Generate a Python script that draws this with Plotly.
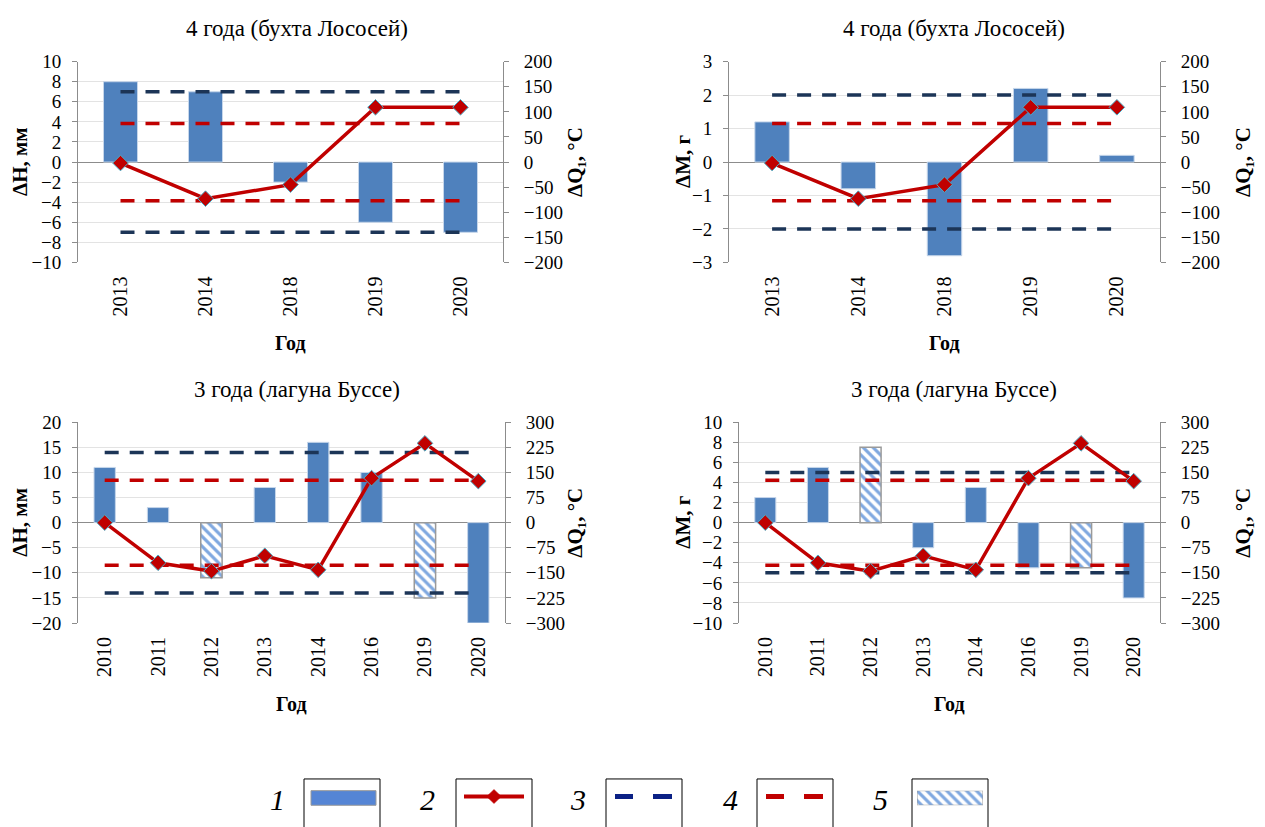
import plotly.graph_objects as go

# ---------------- data ----------------
years_top = ["2013", "2014", "2018", "2019", "2020"]
dH_top = [8, 7, -2, -6, -7]
dM_top = [1.2, -0.8, -2.8, 2.2, 0.2]
dQ_top = [-2, -73, -45, 109, 109]
dH_top_lim = 7
dM_top_lim = 2
dQ_top_lim = 77

years_bot = ["2010", "2011", "2012", "2013", "2014", "2016", "2019", "2020"]
dH_bot = [11, 3, -11, 7, 16, 10, -15, -20]
dM_bot = [2.5, 5.5, 7.5, -2.5, 3.5, -4.5, -4.5, -7.5]
dQ_bot = [0, -120, -145, -99, -141, 133, 237, 124]
hatched_bot = ["2012", "2019"]
dH_bot_lim = 14
dM_bot_lim = 5
dQ_bot_lim = 127

title_top = "4 года (бухта Лососей)"
title_bot = "3 года (лагуна Буссе)"
legend_labels = ["1", "2", "3", "4", "5"]

# ---------------- styling ----------------
W, H = 1265, 827
FONT = "Liberation Serif, Times New Roman, serif"
BAR = "#4F81BD"
RED = "#C00000"
NAVY = "#1C3557"
AXIS = "#8C8C8C"
GRID = "#E3E3E3"
DASH = "14px,11px"


def px(x):
    return x / W


def py(y):
    return 1 - y / H


def label(text, x, y, size, angle=0, weight="normal", style="normal"):
    return dict(text=text, x=px(x), y=py(y), xref="paper", yref="paper",
                xanchor="center", yanchor="middle", showarrow=False,
                textangle=angle,
                font=dict(family=FONT, size=size, color="black",
                          weight=weight, style=style))


panels = [
    dict(x0=78, x1=503, y0=53, y1=259, cats=years_top, bars=dH_top, hatched=[],
         q=dQ_top, lim=dH_top_lim, qlim=dQ_top_lim, yr=10, yd=2, qr=200, qd=50,
         title=title_top, ytitle="ΔH, мм", ytx=20, qtx=575, ttx=297),
    dict(x0=729, x1=1160, y0=53, y1=259, cats=years_top, bars=dM_top, hatched=[],
         q=dQ_top, lim=dM_top_lim, qlim=dQ_top_lim, yr=3, yd=1, qr=200, qd=50,
         title=title_top, ytitle="ΔM, г", ytx=683, qtx=1243, ttx=954),
    dict(x0=78, x1=505, y0=423, y1=629, cats=years_bot, bars=dH_bot, hatched=hatched_bot,
         q=dQ_bot, lim=dH_bot_lim, qlim=dQ_bot_lim, yr=20, yd=5, qr=300, qd=75,
         title=title_bot, ytitle="ΔH, мм", ytx=20, qtx=575, ttx=297),
    dict(x0=739, x1=1160, y0=423, y1=629, cats=years_bot, bars=dM_bot, hatched=hatched_bot,
         q=dQ_bot, lim=dM_bot_lim, qlim=dQ_bot_lim, yr=10, yd=2, qr=300, qd=75,
         title=title_bot, ytitle="ΔM, г", ytx=683, qtx=1243, ttx=954),
]

fig = go.Figure()
xtickfont = dict(family=FONT, size=20, color="black")
ytickfont = dict(family=FONT, size=19, color="black")
layout = dict(
    width=W, height=H, margin=dict(l=0, r=0, t=0, b=0),
    paper_bgcolor="white", plot_bgcolor="white",
    showlegend=False, barmode="overlay",
    font=dict(family=FONT, size=19, color="black"),
)
annotations = []
shapes = []

for i, p in enumerate(panels):
    xa = f"x{i + 1}" if i else "x"
    ya = f"y{2 * i + 1}" if i else "y"
    ya2 = f"y{2 * i + 2}"
    xkey = f"xaxis{i + 1}" if i else "xaxis"
    ykey = f"yaxis{2 * i + 1}" if i else "yaxis"
    ykey2 = f"yaxis{2 * i + 2}"
    cats = p["cats"]
    n = len(cats)

    layout[xkey] = dict(
        domain=[px(p["x0"]), px(p["x1"])], anchor=ya, type="category",
        range=[-0.5, n - 0.5], tickangle=-90, showgrid=False, showline=False,
        ticks="", ticklabelstandoff=9, tickfont=xtickfont,
    )
    layout[ykey] = dict(
        domain=[py(p["y1"]), py(p["y0"])], anchor=xa,
        range=[-p["yr"], p["yr"]], dtick=p["yd"], tick0=0,
        showline=True, linecolor=AXIS, linewidth=1,
        ticks="outside", ticklen=5, tickcolor=AXIS,
        showgrid=True, gridcolor=GRID, gridwidth=1,
        zeroline=True, zerolinecolor=AXIS, zerolinewidth=1,
        ticklabelstandoff=7, tickfont=ytickfont,
    )
    layout[ykey2] = dict(
        overlaying=ya, side="right", anchor=xa,
        range=[-p["qr"], p["qr"]], dtick=p["qd"], tick0=0,
        showline=True, linecolor=AXIS, linewidth=1,
        ticks="outside", ticklen=5, tickcolor=AXIS,
        showgrid=False, zeroline=False,
        ticklabelstandoff=11, tickfont=ytickfont,
    )

    solid = [v if c not in p["hatched"] else None for c, v in zip(cats, p["bars"])]
    hatch = [v if c in p["hatched"] else None for c, v in zip(cats, p["bars"])]

    fig.add_trace(go.Bar(
        x=cats, y=solid, width=0.4, xaxis=xa, yaxis=ya,
        marker=dict(color=BAR, line=dict(color="#C6D6EA", width=1)),
    ))
    if p["hatched"]:
        fig.add_trace(go.Bar(
            x=cats, y=hatch, width=0.4, xaxis=xa, yaxis=ya,
            marker=dict(
                color="#7FA8E0",
                line=dict(color="#9A9A9A", width=1.5),
                pattern=dict(shape="\\", fgcolor="#7FA8E0", bgcolor="white",
                             size=7, solidity=0.45, fillmode="replace"),
            ),
        ))

    # threshold lines
    for s in (1, -1):
        fig.add_trace(go.Scatter(
            x=cats, y=[s * p["lim"]] * n, mode="lines", xaxis=xa, yaxis=ya,
            line=dict(color=NAVY, width=3.5, dash=DASH),
        ))
    for s in (1, -1):
        fig.add_trace(go.Scatter(
            x=cats, y=[s * p["qlim"]] * n, mode="lines", xaxis=xa, yaxis=ya2,
            line=dict(color=RED, width=3.5, dash=DASH),
        ))

    # ΔQ1 line
    fig.add_trace(go.Scatter(
        x=cats, y=p["q"], mode="lines+markers", xaxis=xa, yaxis=ya2,
        line=dict(color=RED, width=3.5),
        marker=dict(symbol="diamond", size=12, color=RED,
                    line=dict(color="#4BACC6", width=1)),
    ))

    ymid = (p["y0"] + p["y1"]) / 2
    xmid = (p["x0"] + p["x1"]) / 2
    annotations += [
        label(p["title"], p["ttx"], p["y0"] - 34, 23),
        label(p["ytitle"], p["ytx"], ymid, 21, -90, weight="bold"),
        label("ΔQ₁, °C", p["qtx"], ymid, 21, -90, weight="bold"),
        label("Год", xmid, p["y1"] + 83, 20, weight="bold"),
    ]

# ---------------- legend keys ----------------
box_left = [304, 456, 606, 757, 912]
num_x = [277, 427, 578, 730, 880]
box_w = 76
box_top = 789
for k in range(5):
    l, r = box_left[k], box_left[k] + box_w
    shapes.append(dict(type="path", xref="paper", yref="paper",
                       path=f"M {px(l)},{py(840)} L {px(l)},{py(box_top)} "
                            f"L {px(r)},{py(box_top)} L {px(r)},{py(840)}",
                       line=dict(color="black", width=1)))
    annotations.append(label(legend_labels[k], num_x[k], 810, 30, style="italic"))

# 1: solid bar key
shapes.append(dict(type="rect", xref="paper", yref="paper",
                   x0=px(311), x1=px(376), y0=py(816), y1=py(801),
                   fillcolor="#5585D5", line=dict(color="#9A9A9A", width=1)))
# 2: line with diamond key
shapes.append(dict(type="line", xref="paper", yref="paper",
                   x0=px(464), x1=px(524), y0=py(807), y1=py(807),
                   line=dict(color=RED, width=4)))
cx, cy, d = 494, 807, 7
shapes.append(dict(type="path", xref="paper", yref="paper",
                   path=f"M {px(cx)},{py(cy - d)} L {px(cx + d)},{py(cy)} "
                        f"L {px(cx)},{py(cy + d)} L {px(cx - d)},{py(cy)} Z",
                   fillcolor=RED, line=dict(color=RED, width=1)))
# 3 and 4: dashed keys
for bl, col in ((606, "#0B2185"), (757, RED)):
    for a, b in ((9, 27), (47, 66)):
        shapes.append(dict(type="line", xref="paper", yref="paper",
                           x0=px(bl + a), x1=px(bl + b), y0=py(807), y1=py(807),
                           line=dict(color=col, width=5)))

# 5: hatched key drawn as a pattern-filled bar in its own small axis
layout["xaxis5"] = dict(domain=[px(917), px(983)], anchor="y9", range=[-0.5, 0.5],
                        visible=False, fixedrange=True)
layout["yaxis9"] = dict(domain=[py(816), py(801)], anchor="x5", range=[0, 1],
                        visible=False, fixedrange=True)
fig.add_trace(go.Bar(
    x=[0], y=[1], width=1, xaxis="x5", yaxis="y9",
    marker=dict(color="#7FA8E0", line=dict(color="#9A9A9A", width=1),
                pattern=dict(shape="\\", fgcolor="#7FA8E0", bgcolor="white",
                             size=7, solidity=0.45, fillmode="replace")),
))

layout["annotations"] = annotations
layout["shapes"] = shapes
fig.update_layout(**layout)
fig.write_html("out.html")
